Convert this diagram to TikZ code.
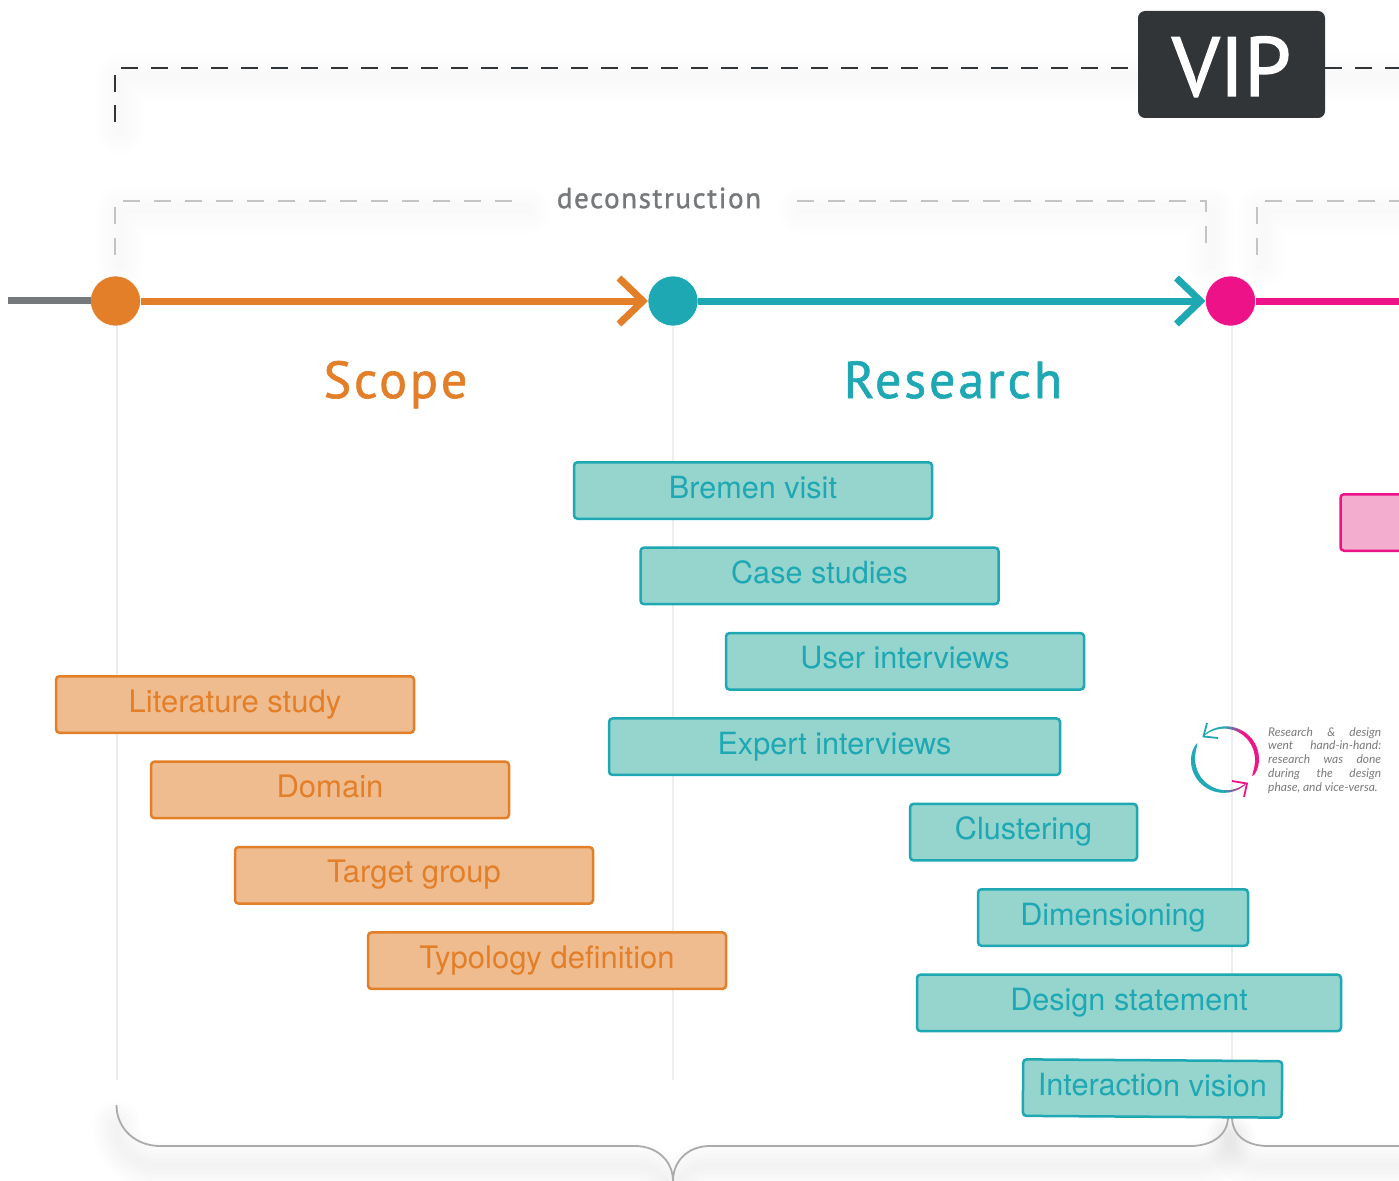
\documentclass[tikz,border=0pt]{standalone}
\usepackage{fontspec}
\setmainfont{TeX Gyre Heros}
\newfontfamily\titlefont[LetterSpace=5.5,FakeBold=1.2]{PT Sans}
\newfontfamily\vipfont[FakeBold=1.6]{PT Sans}
\newfontfamily\notefont{Lato}
\usetikzlibrary{arrows.meta,calc}
\definecolor{scopec}{HTML}{E37F28}
\definecolor{scopef}{HTML}{EFBC90}
\definecolor{researchc}{HTML}{1DA8B4}
\definecolor{researchf}{HTML}{96D4CE}
\definecolor{designc}{HTML}{EE1289}
\definecolor{designf}{HTML}{F3ADCF}
\definecolor{vipc}{HTML}{313538}
\definecolor{tailc}{HTML}{76797C}
\definecolor{dashc}{HTML}{C4C4C4}

\begin{document}
\begin{tikzpicture}[x=1pt,y=-1pt]
\tikzstyle{bar}=[rectangle, rounded corners=3.5, line width=2.5, minimum height=56.5, inner sep=0, text height=25, text depth=10, node distance=85.4]
\tikzstyle{scopebar}=[bar, draw=scopec, fill=scopef, text=scopec, minimum width=358, font=\fontsize{31}{34}\selectfont]
\tikzstyle{researchbar}=[bar, draw=researchc, fill=researchf, text=researchc, minimum width=358, font=\fontsize{30.6}{34}\selectfont]
\tikzstyle{dot}=[circle, minimum size=50, inner sep=0, outer sep=0]
\tikzstyle{phase}=[font=\titlefont\fontsize{52}{56}\selectfont, text height=40, text depth=12]
\tikzstyle{connect}=[-{Straight Barb[length=24,width=46]}, line width=7]
\tikzstyle{vline}=[line width=2, black!7]
\tikzstyle{blackdash}=[line width=2, vipc, dash pattern=on 17 off 13]
\tikzstyle{greydash}=[line width=2, dashc, dash pattern=on 17 off 14]
\tikzstyle{brace}=[line width=1.8, black!33]
\tikzstyle{glow}=[black, opacity=0.005, line cap=round, line join=round, transform canvas={shift={(5pt,-9pt)}}]
\tikzstyle{braceglow}=[black, opacity=0.006, line cap=round, line join=round, transform canvas={shift={(0pt,-20pt)}}]
\useasboundingbox (0,0) rectangle (1399,1180);

  \coordinate (tail)   at (8,300);
  \coordinate (out)    at (1399,301);
  \coordinate (vipa)   at (115,122);
  \coordinate (vipb)   at (115,68);
  \coordinate (vipd)   at (1399,68);
  \coordinate (deca)   at (115,255);
  \coordinate (decb)   at (115,201);
  \coordinate (decc)   at (522,201);
  \coordinate (decd)   at (797,201);
  \coordinate (dece)   at (1206,201);
  \coordinate (decf)   at (1206,255);
  \coordinate (desa)   at (1257,255);
  \coordinate (desb)   at (1257,201);
  \coordinate (desc)   at (1399,201);
  \coordinate (bra)    at (116.5,1105);
  \coordinate (brb)    at (160,1146);
  \coordinate (brc)    at (635,1146);
  \coordinate (brd)    at (673,1181);
  \coordinate (bre)    at (710,1146);
  \coordinate (brf)    at (1190,1146);
  \coordinate (brg)    at (1228,1117);
  \coordinate (brh)    at (1232,1117);
  \coordinate (bri)    at (1268,1146);
  \coordinate (brj)    at (1399,1146);
  \coordinate (cycle)  at (1225,759.5);

  \foreach \w in {8,16,24,32,40,48} {
    \draw[glow, line width=\w] (vipa) -- (vipb) -- (vipd);
    \draw[glow, line width=\w] (deca) -- (decb) -- (decc);
    \draw[glow, line width=\w] (decd) -- (dece) -- (decf);
    \draw[glow, line width=\w] (desa) -- (desb) -- (desc);
    \draw[braceglow, line width=\w] (bra) .. controls +(0,24) and +(-24,0) .. (brb) -- (brc) .. controls +(22,0) and +(0,-20) .. (brd) .. controls +(0,-20) and +(-22,0) .. (bre) -- (brf) .. controls +(22,0) and +(0,18) .. (brg);
    \draw[braceglow, line width=\w] (brh) .. controls +(0,18) and +(-22,0) .. (bri) -- (brj);
  }

  \node[dot, fill=scopec, draw=white, line width=0.5] (scope) at (115.5,301) {};
  \node[dot, fill=researchc, draw=white, line width=0.5] (research) at (673,301) {};
  \node[dot, fill=designc, draw=white, line width=0.5] (design) at (1230.5,301) {};

  \coordinate (scopeend) at (116.5,1080);
  \coordinate (researchend) at (673,1080);
  \coordinate (designend) at (1231.5,1075);
  \coordinate (scopetop) at (116.5,326);
  \coordinate (designtop) at (1231.5,326);
  \draw[vline] (scopetop) -- (scopeend);
  \draw[vline] (research) -- (researchend);
  \draw[vline] (designtop) -- (designend);

  \draw[line width=7, tailc] (tail) -- (tail -| scope.west);
  \path (scope) edge [connect, scopec] (research);
  \path (research) edge [connect, researchc] (design);
  \path (design) edge [line width=7, designc] (out);

  \node[rectangle, fill=vipc, rounded corners=7, minimum width=187, minimum height=107, inner sep=0, text=white, text height=63, text depth=0, font=\vipfont\fontsize{84}{88}\selectfont] (vip) at (1231.5,64.5) {VIP};
  \draw[blackdash] (vipa) -- (vipb) -- (vipb -| vip.west);
  \draw[blackdash] (vipd -| vip.east) -- (vipd);
  \draw[greydash] (deca) -- (decb) -- (decc);
  \draw[greydash] (decd) -- (dece) -- (decf);
  \draw[greydash] (desa) -- (desb) -- (desc);
  \node[text=tailc, font=\titlefont\fontsize{29}{32}\selectfont] (decon) at (659,198) {deconstruction};

  \node[phase, text=scopec] (scopetitle) at (395.5,384) {Scope};
  \node[phase, text=researchc] (researchtitle) at (953,384) {Research};

  \draw[brace] (bra) .. controls +(0,24) and +(-24,0) .. (brb) -- (brc) .. controls +(22,0) and +(0,-20) .. (brd) .. controls +(0,-20) and +(-22,0) .. (bre) -- (brf) .. controls +(22,0) and +(0,18) .. (brg);
  \draw[brace] (brh) .. controls +(0,18) and +(-22,0) .. (bri) -- (brj);

  \node[scopebar] (literature) at (235,704.5) {Literature study};
  \node[scopebar] (domain)     [below of =literature, xshift=95]  {Domain};
  \node[scopebar] (target)     [below of =domain,     xshift=84]  {Target group};
  \node[scopebar] (typology)   [below of =target,     xshift=133] {Typology definition};

  \node[researchbar] (bremen) at (753,490.5) {Bremen visit};
  \node[researchbar] (cases)  [below of =bremen, xshift=66.5] {Case studies};
  \node[researchbar] (users)  [below of =cases,  xshift=85.5] {User interviews};
  \node[researchbar, minimum width=451] (experts)    [below of =users,      xshift=-70.5] {Expert interviews};
  \node[researchbar, minimum width=227] (clustering) [below of =experts,    xshift=189]   {Clustering};
  \node[researchbar, minimum width=270] (dimension)  [below of =clustering, xshift=89.5]  {Dimensioning};
  \node[researchbar, minimum width=424] (statement)  [below of =dimension,  xshift=16]    {Design statement};
  \node[researchbar, minimum width=259, rotate=-0.4] (vision) at (1152.5,1088.5) {Interaction vision};

  \node[bar, draw=designc, fill=designf, minimum width=120] (pinkbar) at (1400.5,522.5) {};

  \foreach \a [evaluate=\a as \b using \a+3.5] in {150,153,...,306} {
    \pgfmathsetmacro\w{0.8+3.6*sin(180*((\a-150)/159)^0.6)}
    \pgfmathsetmacro\p{min(100,max(0,(305-\a)*2.5))}
    \draw[line width=\w, color=researchc!\p!designc] ([shift={(\a:32pt)}]cycle) -- ([shift={(\b:32pt)}]cycle);
  }
  \foreach \a [evaluate=\a as \b using \a+3.5] in {-31,-28,...,130} {
    \pgfmathsetmacro\w{0.8+3.2*sin(180*((\a+31)/164)^0.5)}
    \pgfmathsetmacro\p{min(100,max(0,(\a-55)*100/35))}
    \draw[line width=\w, color=researchc!\p!designc] ([shift={(\a:32pt)}]cycle) -- ([shift={(\b:32pt)}]cycle);
  }
  \draw[line width=1.8, researchc] (1207,723) -- (1203.5,736.5) -- (1218,738);
  \draw[line width=1.8, designc] (1232,781) -- (1247,783.5) -- (1244,797);

  \node[text width=113, inner sep=0, anchor=north west, align=justify, text=black!52, font=\notefont\itshape\fontsize{12}{13.8}\selectfont] (note) at (1268,727) {Research \& design\linebreak went hand-in-hand:\linebreak research was done\linebreak during the design\linebreak phase, and vice-versa.};

\end{tikzpicture}
\end{document}
